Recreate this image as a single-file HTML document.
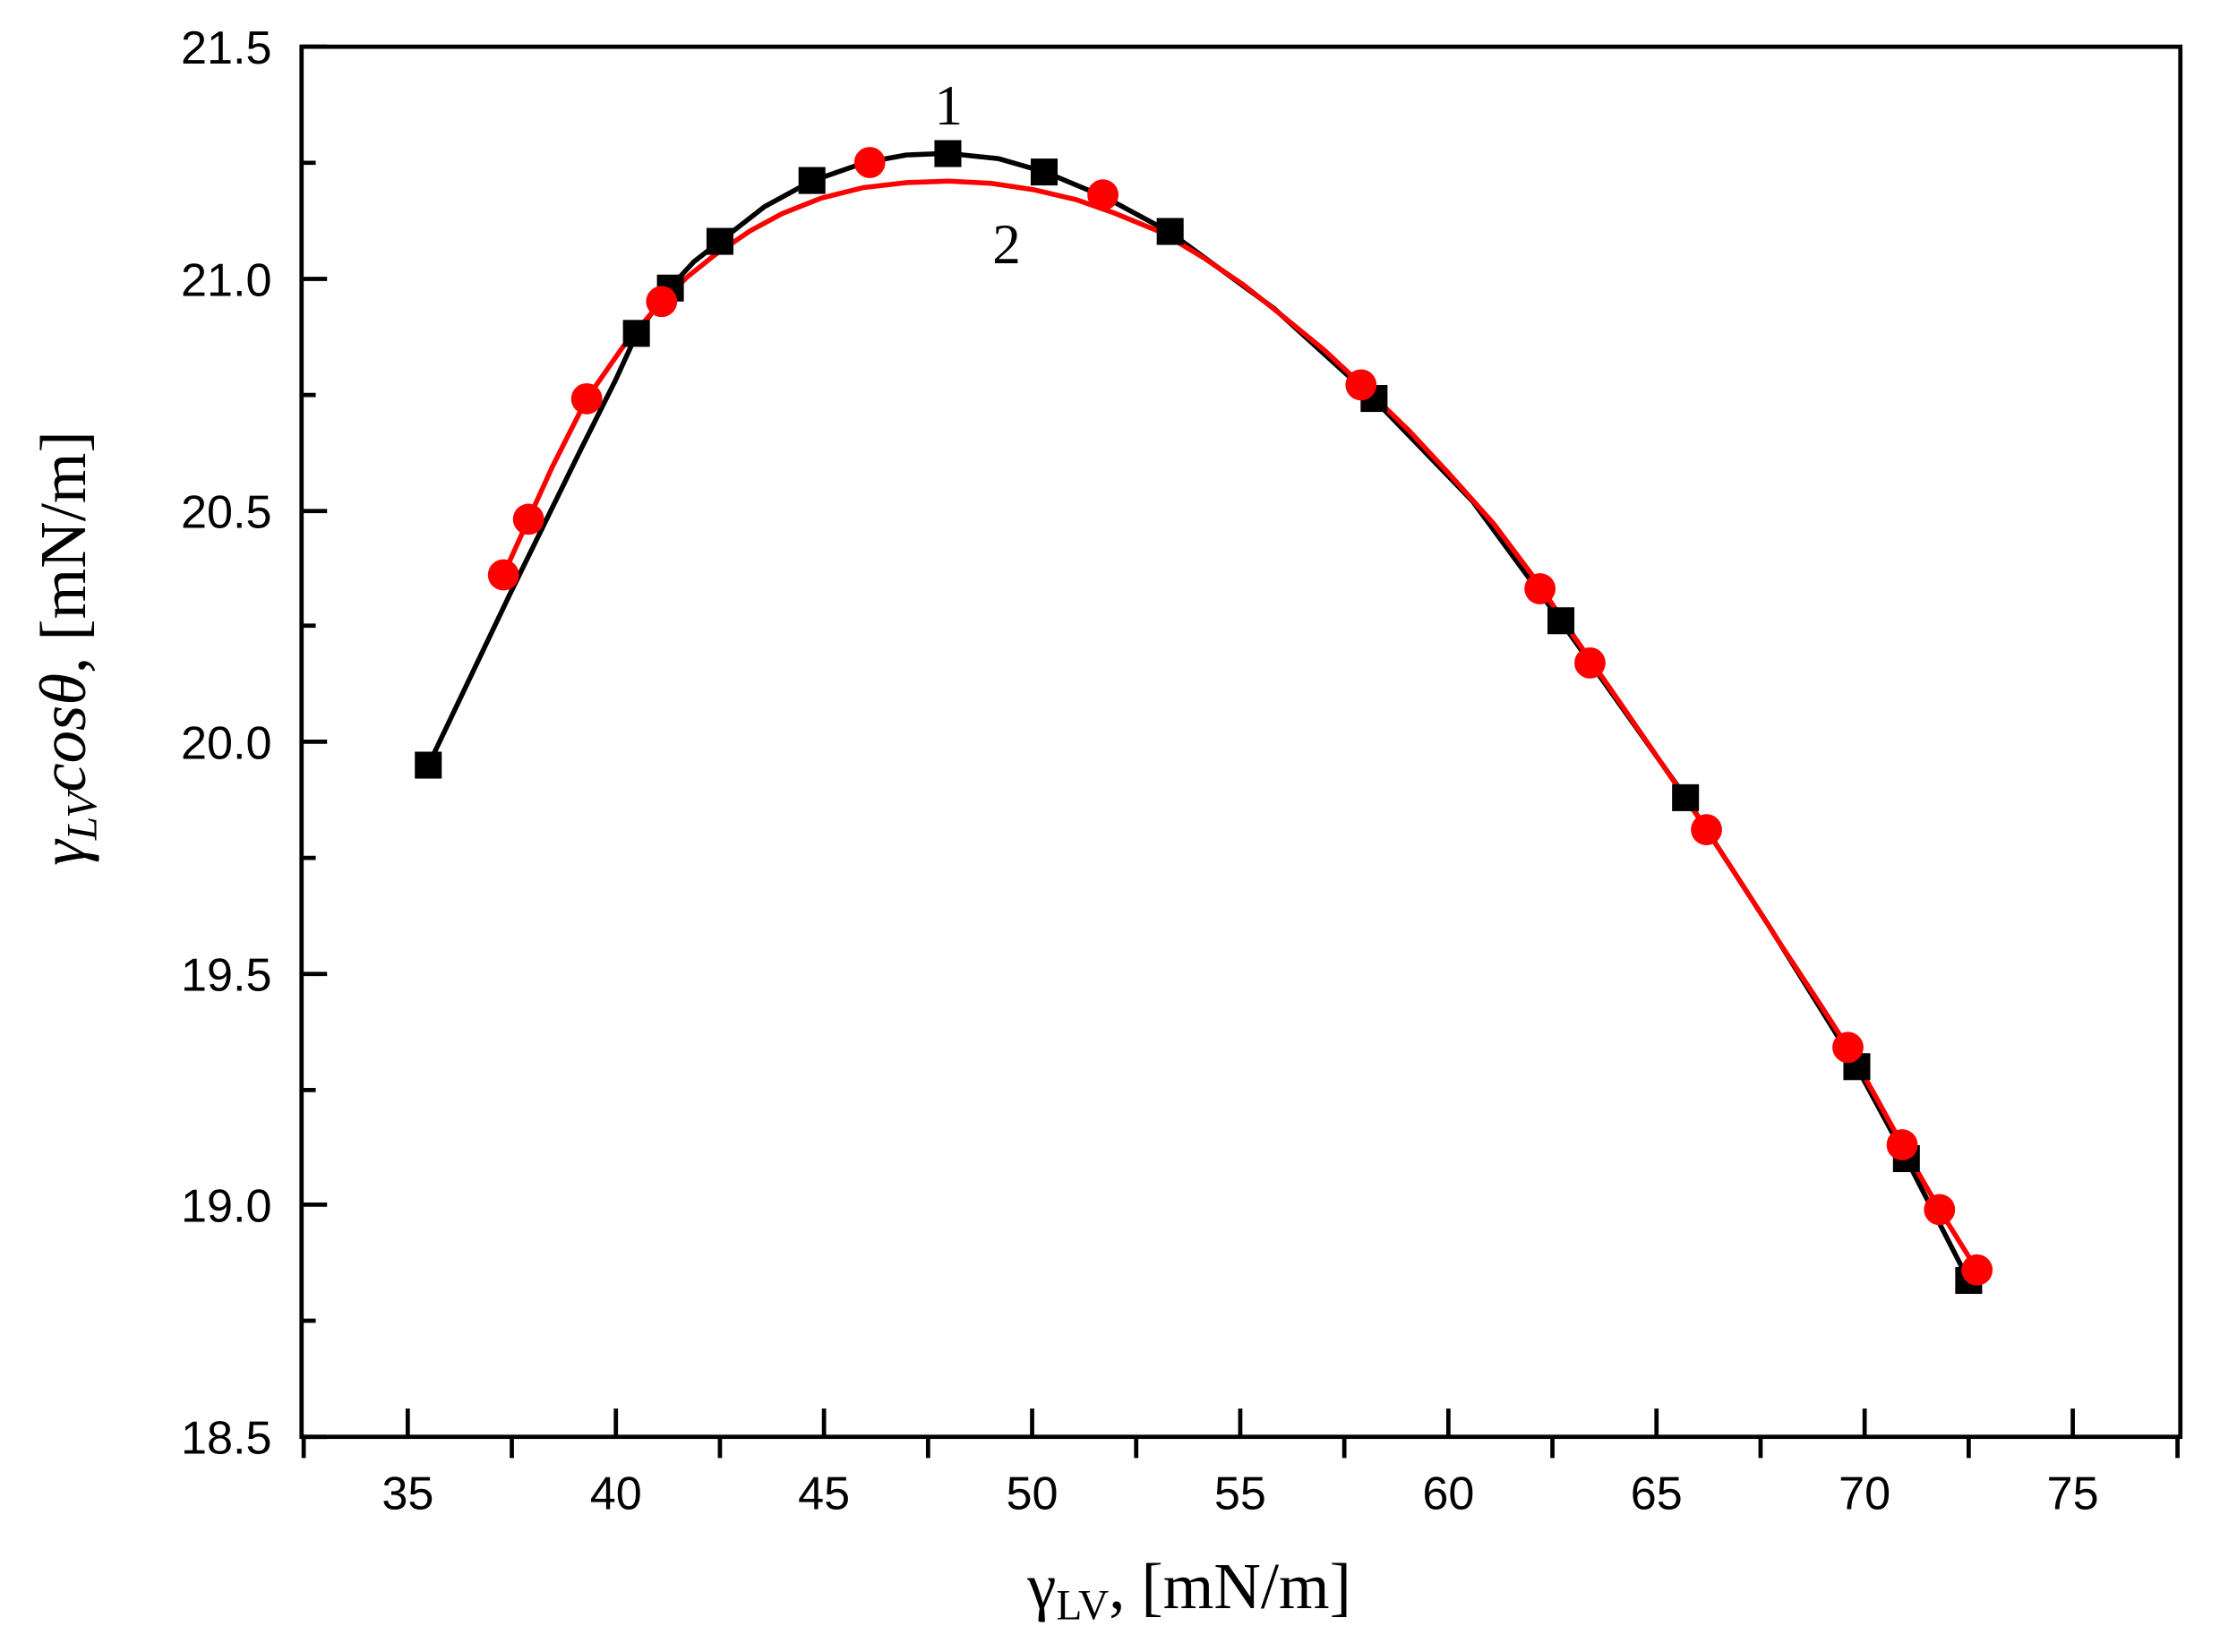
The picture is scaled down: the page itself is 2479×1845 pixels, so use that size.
<!DOCTYPE html>
<html><head><meta charset="utf-8"><style>
html,body{margin:0;padding:0;background:#fff;}
svg{display:block;}
</style></head><body>
<svg width="2479" height="1845" viewBox="0 0 1568 1167" preserveAspectRatio="none" xmlns="http://www.w3.org/2000/svg">
<rect width="1568" height="1167" fill="#fff"/>
<g stroke="#000" stroke-width="3" fill="none">
<rect x="213" y="33" width="1327" height="982"/>
<path d="M213 33h18M213 197h18M213 361h18M213 524h18M213 688h18M213 851h18M213 1015h18"/>
<path d="M213 115h10M213 279h10M213 442h10M213 606h10M213 770h10M213 933h10"/>
<path d="M288 1015v-20M435 1015v-20M582 1015v-20M729 1015v-20M876 1015v-20M1023 1015v-20M1170 1015v-20M1317 1015v-20M1464 1015v-20"/>
<path d="M214.5 1015v15M361.5 1015v15M508.5 1015v15M655.5 1015v15M802.5 1015v15M949.5 1015v15M1096.5 1015v15M1243.5 1015v15M1390.5 1015v15M1538 1015v15"/>
</g>
<g font-family="Liberation Sans, Arial, sans-serif" font-size="33" fill="#000" text-anchor="end">
<text x="192" y="45">21.5</text>
<text x="192" y="209">21.0</text>
<text x="192" y="373">20.5</text>
<text x="192" y="536">20.0</text>
<text x="192" y="700">19.5</text>
<text x="192" y="863">19.0</text>
<text x="192" y="1027">18.5</text>
</g>
<g font-family="Liberation Sans, Arial, sans-serif" font-size="33" fill="#000" text-anchor="middle">
<text x="288" y="1066">35</text><text x="435" y="1066">40</text><text x="582" y="1066">45</text>
<text x="729" y="1066">50</text><text x="876" y="1066">55</text><text x="1023" y="1066">60</text>
<text x="1170" y="1066">65</text><text x="1317" y="1066">70</text><text x="1464" y="1066">75</text>
</g>
<polyline fill="none" stroke="#000" stroke-width="3.5" stroke-linejoin="round" points="302.7,540.3 360,420 410,318 435,268 449.7,235.9 473.2,203.2 490,185 508.5,170.5 540,146 573.2,127.9 611,114.8 640,109.5 669.2,108.3 705,112 737.8,121.4 780,139 826,163.9 900,218 970.1,281.7 1040,354 1102.4,438.9 1190.6,563.2 1250,655 1311.1,753.1 1346.4,818.5 1390.5,904.5"/>
<polyline fill="none" stroke="#f00" stroke-width="3.5" stroke-linejoin="round" points="355.6,406.1 373.3,366.8 390,330 414.4,281.7 440,245 464.4,216.3 485,196 505,180 530,163 552.6,150.8 580,140 610,132.5 640,129 670.2,127.9 700,129.5 730,134 760,141 787.8,150.8 820,164 850,182 878,201 905.4,222.8 935,247 965,275 995,304 1023,334.1 1055,370 1085,410 1112,450 1140.6,491.2 1170,534 1200,578 1230,624 1258.2,667.9 1282,704 1305.2,739.9 1325,775 1343.5,808.7 1369.9,854.5 1396.4,897.1"/>
<g fill="#000">
<rect x="293" y="531" width="19" height="19"/>
<rect x="440" y="226" width="19" height="19"/>
<rect x="464" y="194" width="19" height="19"/>
<rect x="499" y="161" width="19" height="19"/>
<rect x="564" y="118" width="19" height="19"/>
<rect x="660" y="99" width="19" height="19"/>
<rect x="728" y="112" width="19" height="19"/>
<rect x="817" y="154" width="19" height="19"/>
<rect x="961" y="272" width="19" height="19"/>
<rect x="1093" y="429" width="19" height="19"/>
<rect x="1181" y="554" width="19" height="19"/>
<rect x="1302" y="744" width="19" height="19"/>
<rect x="1337" y="809" width="19" height="19"/>
<rect x="1381" y="895" width="19" height="19"/>
</g>
<g fill="#f00">
<circle cx="355.6" cy="406.1" r="11"/><circle cx="373.3" cy="366.8" r="11"/>
<circle cx="414.4" cy="281.7" r="11"/><circle cx="467.3" cy="213" r="11"/>
<circle cx="614.3" cy="114.8" r="11"/><circle cx="779" cy="137.7" r="11"/>
<circle cx="961.3" cy="271.9" r="11"/><circle cx="1087.7" cy="415.9" r="11"/>
<circle cx="1123" cy="468.3" r="11"/><circle cx="1205.3" cy="586.1" r="11"/>
<circle cx="1305.2" cy="739.9" r="11"/><circle cx="1343.5" cy="808.7" r="11"/>
<circle cx="1369.9" cy="854.5" r="11"/><circle cx="1396.4" cy="897.1" r="11"/>
</g>
<g font-family="Liberation Serif, Times New Roman, serif" fill="#000">
<text x="670" y="88" font-size="40" text-anchor="middle">1</text>
<text x="711" y="186" font-size="40" text-anchor="middle">2</text>
<text x="840" y="1136" font-size="46" text-anchor="middle">γ<tspan font-size="30" dy="8">LV</tspan><tspan dy="-8">, [mN/m]</tspan></text>
<text transform="translate(60,458) rotate(-90)" font-size="46" text-anchor="middle"><tspan font-style="italic">γ</tspan><tspan font-size="30" dy="8" font-style="italic">LV</tspan><tspan dy="-8" font-style="italic">cosθ</tspan>, [mN/m]</text>
</g>
</svg>
</body></html>
